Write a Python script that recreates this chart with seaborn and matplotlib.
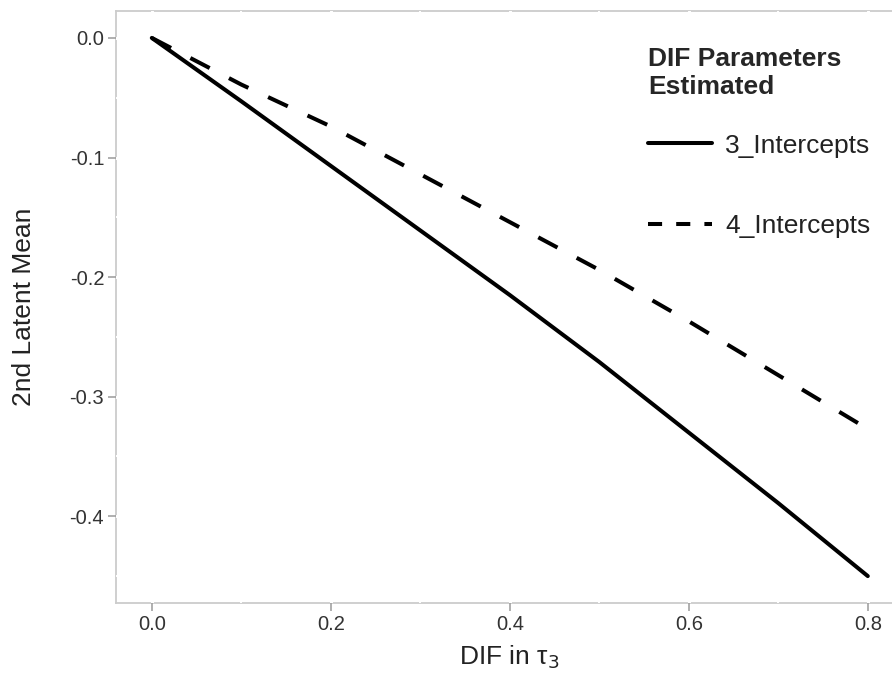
import matplotlib
matplotlib.use("Agg")
import matplotlib.pyplot as plt
import seaborn as sns
import pandas as pd
import numpy as np
from matplotlib.ticker import MultipleLocator
from matplotlib.lines import Line2D

# ---- data ----
dif_tau3 = [0.0, 0.1, 0.2, 0.3, 0.4, 0.5, 0.6, 0.7, 0.8]
mean_3_intercepts = [0.0, -0.053, -0.107, -0.161, -0.215, -0.271, -0.330, -0.389, -0.450]
mean_4_intercepts = [0.0, -0.039, -0.074, -0.114, -0.154, -0.194, -0.237, -0.282, -0.327]
series_names = ["3_Intercepts", "4_Intercepts"]
x_ticks = [0.0, 0.2, 0.4, 0.6, 0.8]
y_ticks = [0.0, -0.1, -0.2, -0.3, -0.4]

df = pd.DataFrame({
    "x": dif_tau3 * 2,
    "y": mean_3_intercepts + mean_4_intercepts,
    "model": [series_names[0]] * len(dif_tau3) + [series_names[1]] * len(dif_tau3),
})

sns.set_theme(style="white")
plt.rcParams["font.family"] = ["Liberation Sans", "DejaVu Sans"]

W, H = 892, 673
fig = plt.figure(figsize=(W / 100, H / 100), dpi=100)
left_px, top_px, bottom_px = 116, 11, 603
ax = fig.add_axes([left_px / W, 1 - bottom_px / H, 787.6 / W, (bottom_px - top_px) / H])

lw = 2.9
sns.lineplot(data=df, x="x", y="y", style="model", color="black",
             dashes={series_names[0]: "", series_names[1]: (5.4, 5.4)},
             linewidth=lw, ax=ax, legend=False)

ax.set_xlim(-0.04, 0.84)
ax.set_ylim(-0.4725, 0.0225)
ax.set_xticks(x_ticks)
ax.set_yticks(y_ticks)
ax.set_xticklabels([f"{v:.1f}" for v in x_ticks])
ax.set_yticklabels([f"{v:.1f}" for v in y_ticks])
ax.xaxis.set_minor_locator(MultipleLocator(0.1))
ax.yaxis.set_minor_locator(MultipleLocator(0.05))

# white grid drawn over the light-grey border (as in the reference)
ax.set_axisbelow(True)
for s in ax.spines.values():
    s.set_visible(True)
    s.set_color("#cccccc")
    s.set_linewidth(1.3)
    s.set_zorder(0.3)
ax.grid(which="major", color="white", linewidth=2.2)
ax.grid(which="minor", color="white", linewidth=1.4)

ax.tick_params(axis="both", which="major", length=5.5, width=1.1, color="#9a9a9a",
               labelsize=14.5, labelcolor="#333333", pad=3, left=True, bottom=True)
ax.tick_params(axis="both", which="minor", length=0)

ax.set_xlabel("DIF in τ$_{3}$", fontsize=19, color="#222222", labelpad=7)
ax.set_ylabel("2nd Latent Mean", fontsize=19, color="#222222", labelpad=24)

handles = [
    Line2D([], [], color="black", linewidth=lw, linestyle="-"),
    Line2D([], [], color="black", linewidth=lw, dashes=(3.5, 3.5)),
]
leg = ax.legend(handles, series_names, title="DIF Parameters\nEstimated",
                loc="upper left", bbox_to_anchor=(648 / W, 1 - 47 / H),
                bbox_transform=fig.transFigure, frameon=False,
                fontsize=19, handlelength=2.42, handletextpad=0.5,
                labelspacing=2.15, borderpad=0, borderaxespad=0,
                alignment="left")
leg.get_title().set_fontweight("bold")
leg.get_title().set_fontsize(19)
leg.get_title().set_linespacing(1.2)
for t in leg.get_texts():
    t.set_color("#222222")
leg._legend_box.sep = 25

fig.savefig("out.png", dpi=100)
